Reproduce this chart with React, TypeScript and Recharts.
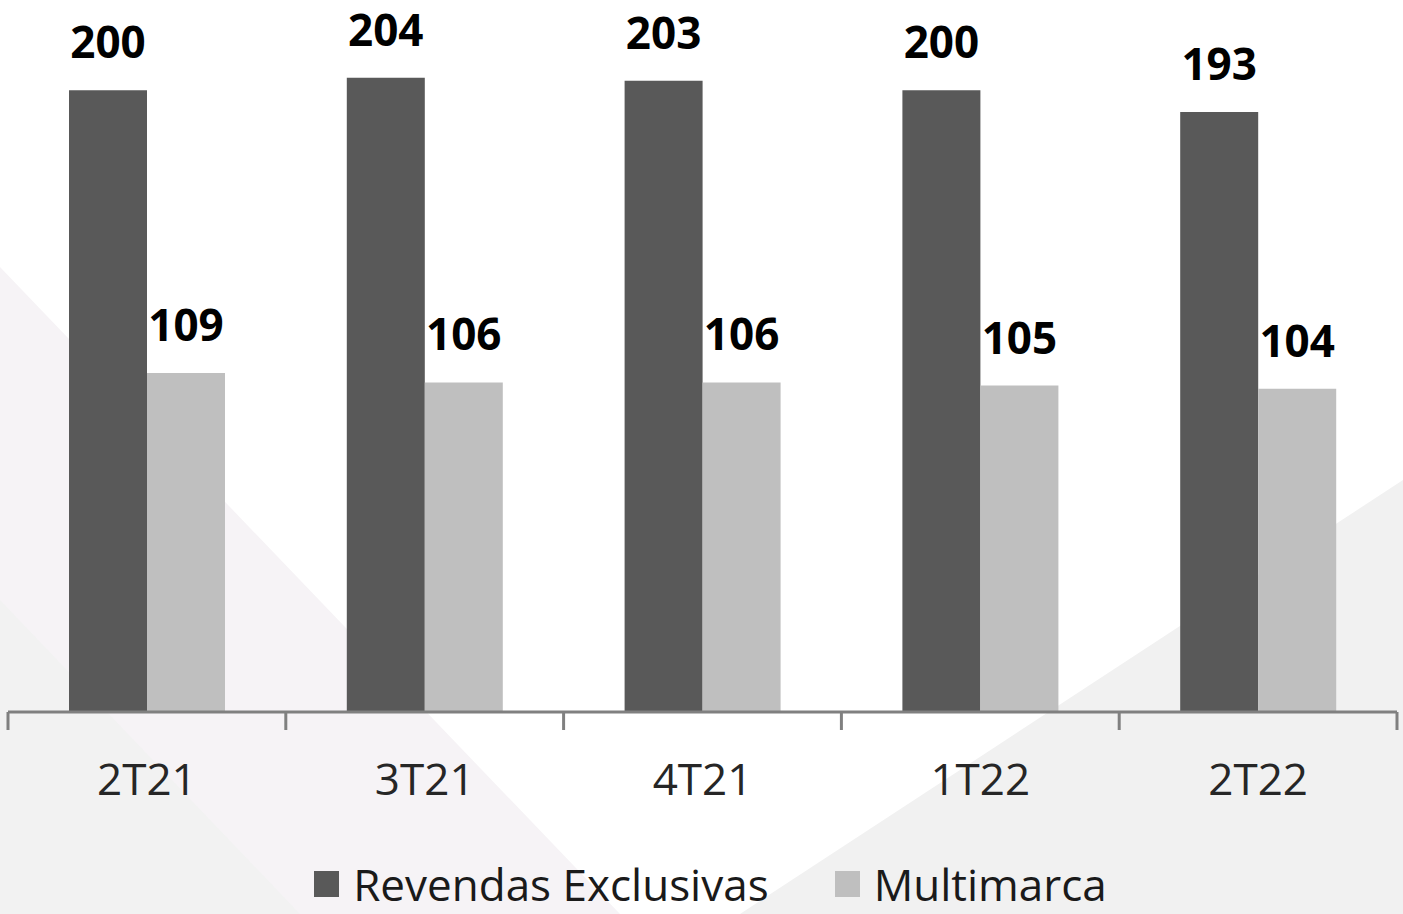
import { BarChart, Bar, XAxis, YAxis, LabelList } from 'recharts'

const quarters = ['2T21', '3T21', '4T21', '1T22', '2T22']
const exclusivas = [200, 204, 203, 200, 193]
const multimarca = [109, 106, 106, 105, 104]
const seriesNames = ['Revendas Exclusivas', 'Multimarca']

const DARK = '#595959'
const LIGHT = '#bfbfbf'
const FONT = '"Open Sans", "Liberation Sans", sans-serif'

const data = quarters.map((q, i) => ({
  quarter: q,
  exclusivas: exclusivas[i],
  multimarca: multimarca[i],
}))

const W = 1403
const H = 914
const MARGIN = { top: 28, right: 6, bottom: 82, left: 8 }
const band = (W - MARGIN.left - MARGIN.right) / quarters.length

// category label, plus tick marks on the band edges instead of the centre
function QuarterTick(props: any) {
  const { x, y, payload, index } = props
  const left = x - band / 2
  const right = x + band / 2
  return (
    <g>
      <line x1={left} y1={y - 8} x2={left} y2={y + 10} stroke="#808080" strokeWidth={3} />
      {index === quarters.length - 1 && (
        <line x1={right} y1={y - 8} x2={right} y2={y + 10} stroke="#808080" strokeWidth={3} />
      )}
      <text x={x} y={y + 75} textAnchor="middle" fill="#262626" fontSize={44} fontFamily={FONT}>
        {payload.value}
      </text>
    </g>
  )
}

function LegendRow() {
  const colors = [DARK, LIGHT]
  return (
    <div style={{
      position: 'absolute', left: 0, top: 856, width: W,
      display: 'flex', justifyContent: 'center', gap: 66, fontFamily: FONT, paddingLeft: 18,
      boxSizing: 'border-box',
    }}>
      {seriesNames.map((name, i) => (
        <div key={name} style={{ display: 'flex', alignItems: 'center' }}>
          <span style={{ width: 25, height: 26, background: colors[i], display: 'inline-block', marginRight: 14 }} />
          <span style={{ fontSize: 44, color: '#1a1a1a', lineHeight: '56px' }}>{name}</span>
        </div>
      ))}
    </div>
  )
}

function Backdrop() {
  return (
    <svg width={W} height={H} style={{ position: 'absolute', left: 0, top: 0 }}>
      <rect width={W} height={H} fill="#ffffff" />
      <polygon points="0,267 620,914 0,914" fill="#f6f3f6" />
      <polygon points="0,600 300,914 0,914" fill="#f2f2f2" />
      <polygon points="1403,480 1403,914 740,914" fill="#f1f1f1" />
    </svg>
  )
}

export default function App() {
  return (
    <div style={{ position: 'absolute', left: 0, top: 0, width: W, height: H, overflow: 'hidden' }}>
      <Backdrop />
      <div style={{ position: 'absolute', left: 0, top: 0 }}>
        <BarChart width={W} height={H} data={data} margin={MARGIN} barSize={78} barGap={0}>
          <XAxis
            dataKey="quarter"
            axisLine={{ stroke: '#808080', strokeWidth: 3 }}
            tickLine={false}
            tick={<QuarterTick />}
            interval={0}
            height={120}
          />
          <YAxis hide domain={[0, 220]} />
          <Bar dataKey="exclusivas" name={seriesNames[0]} fill={DARK} isAnimationActive={false}>
            <LabelList
              dataKey="exclusivas"
              position="top"
              offset={32}
              fill="#000"
              fontSize={44}
              fontWeight={700}
              fontFamily={FONT}
            />
          </Bar>
          <Bar dataKey="multimarca" name={seriesNames[1]} fill={LIGHT} isAnimationActive={false}>
            <LabelList
              dataKey="multimarca"
              position="top"
              offset={32}
              fill="#000"
              fontSize={44}
              fontWeight={700}
              fontFamily={FONT}
            />
          </Bar>
        </BarChart>
      </div>
      <LegendRow />
    </div>
  )
}
